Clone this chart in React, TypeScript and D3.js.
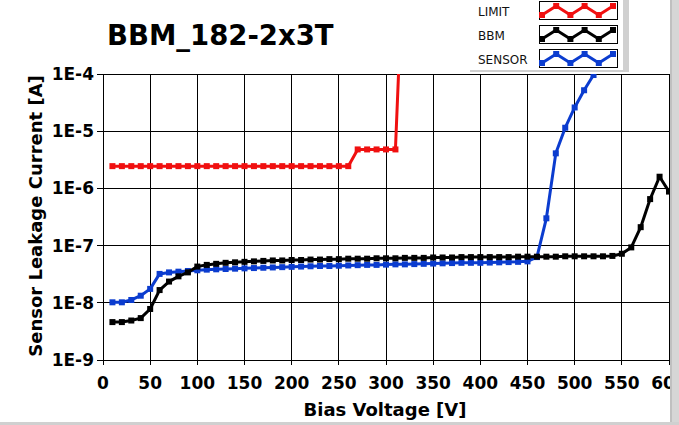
import React from 'react';
import * as d3 from 'd3';

const title = 'BBM_182-2x3T';
const xTicks = [0, 50, 100, 150, 200, 250, 300, 350, 400, 450, 500, 550, 600];
const yTicks = [1e-9, 1e-8, 1e-7, 1e-6, 1e-5, 1e-4];
const yTickLabels = ['1E-9', '1E-8', '1E-7', '1E-6', '1E-5', '1E-4'];

const limitV = [10, 20, 30, 40, 50, 60, 70, 80, 90, 100, 110, 120, 130, 140, 150, 160, 170, 180, 190, 200,
  210, 220, 230, 240, 250, 260, 270, 280, 290, 300, 310, 320];
const limitI = [2.45e-6, 2.45e-6, 2.45e-6, 2.45e-6, 2.45e-6, 2.45e-6, 2.45e-6, 2.45e-6, 2.45e-6, 2.45e-6,
  2.45e-6, 2.45e-6, 2.45e-6, 2.45e-6, 2.45e-6, 2.45e-6, 2.45e-6, 2.45e-6, 2.45e-6, 2.45e-6,
  2.45e-6, 2.45e-6, 2.45e-6, 2.45e-6, 2.45e-6, 2.45e-6, 4.8e-6, 4.8e-6, 4.8e-6, 4.8e-6, 4.8e-6, 5e-2];

const bbmV = [10, 20, 30, 40, 50, 60, 70, 80, 90, 100, 110, 120, 130, 140, 150, 160, 170, 180, 190, 200,
  210, 220, 230, 240, 250, 260, 270, 280, 290, 300, 310, 320, 330, 340, 350, 360, 370, 380, 390, 400,
  410, 420, 430, 440, 450, 460, 470, 480, 490, 500, 510, 520, 530, 540, 550, 560, 570, 580, 590, 600];
const bbmI = [4.6e-9, 4.6e-9, 4.9e-9, 5.4e-9, 7.8e-9, 1.67e-8, 2.35e-8, 2.9e-8, 3.4e-8, 4.3e-8,
  4.6e-8, 4.8e-8, 5.0e-8, 5.1e-8, 5.2e-8, 5.3e-8, 5.4e-8, 5.5e-8, 5.5e-8, 5.6e-8,
  5.6e-8, 5.7e-8, 5.7e-8, 5.8e-8, 5.8e-8, 5.9e-8, 5.9e-8, 5.9e-8, 6.0e-8, 6.0e-8,
  6.0e-8, 6.1e-8, 6.1e-8, 6.1e-8, 6.2e-8, 6.2e-8, 6.2e-8, 6.3e-8, 6.3e-8, 6.3e-8,
  6.3e-8, 6.3e-8, 6.3e-8, 6.4e-8, 6.4e-8, 6.4e-8, 6.4e-8, 6.4e-8, 6.5e-8, 6.5e-8,
  6.5e-8, 6.5e-8, 6.5e-8, 6.6e-8, 7.2e-8, 9.3e-8, 2.1e-7, 6.5e-7, 1.6e-6, 8.8e-7];

const sensorV = [10, 20, 30, 40, 50, 60, 70, 80, 90, 100, 110, 120, 130, 140, 150, 160, 170, 180, 190, 200,
  210, 220, 230, 240, 250, 260, 270, 280, 290, 300, 310, 320, 330, 340, 350, 360, 370, 380, 390, 400,
  410, 420, 430, 440, 450, 460, 470, 480, 490, 500, 510, 520, 530];
const sensorI = [1.02e-8, 1.02e-8, 1.12e-8, 1.33e-8, 1.75e-8, 3.2e-8, 3.4e-8, 3.5e-8, 3.6e-8, 3.7e-8,
  3.8e-8, 3.85e-8, 3.9e-8, 3.95e-8, 4.0e-8, 4.05e-8, 4.1e-8, 4.15e-8, 4.2e-8, 4.25e-8,
  4.3e-8, 4.35e-8, 4.4e-8, 4.4e-8, 4.45e-8, 4.5e-8, 4.55e-8, 4.6e-8, 4.6e-8, 4.65e-8,
  4.7e-8, 4.7e-8, 4.75e-8, 4.8e-8, 4.85e-8, 4.9e-8, 4.95e-8, 5.0e-8, 5.0e-8, 5.0e-8,
  5.05e-8, 5.1e-8, 5.15e-8, 5.2e-8, 5.3e-8, 6.3e-8, 3.0e-7, 4.1e-6, 1.15e-5, 2.6e-5,
  5.2e-5, 9.6e-5, 2.0e-4];

const seriesNames = ['LIMIT', 'BBM', 'SENSOR'];
const seriesColors = ['#f01010', '#000000', '#0b3ccf'];

const W = 679;
const H = 425;
const left = 103;
const right = 669;
const top = 74;
const bottom = 360;
const font = '"DejaVu Sans", Verdana, sans-serif';

const x = d3.scaleLinear().domain([0, 600]).range([left, right]);
const y = d3.scaleLog().domain([1e-9, 1e-4]).range([bottom, top]);

type Pt = [number, number];
const zip = (vs: number[], is: number[]): Pt[] => vs.map((v, i) => [v, is[i]]);

const line = d3.line<Pt>().x(d => x(d[0])).y(d => y(d[1]));

const Series = ({ pts, color }: { pts: Pt[]; color: string }) => (
  <g>
    <path d={line(pts) || ''} fill="none" stroke={color} strokeWidth={3} strokeLinejoin="round" />
    {pts.map((d, i) => (
      <rect key={i} x={x(d[0]) - 3} y={y(d[1]) - 3} width={6} height={6} fill={color} />
    ))}
  </g>
);

// small zigzag swatch inside the legend boxes
const swatchX = [0, 1, 2, 3, 4, 5];
const swatchY = [1, 0, 1, 0, 1, 0];

const Legend = () => {
  const sx = d3.scaleLinear().domain([0, 5]).range([542, 613]);
  const rows = [1, 25, 49];
  return (
    <g>
      <rect x={470} y={0} width={158} height={71} fill="#fff" />
      <rect x={623} y={0} width={6} height={72} fill="#d0d0d0" />
      <rect x={470} y={70} width={159} height={2} fill="#cfcfcf" />
      {seriesNames.map((name, k) => {
        const r = rows[k];
        const sy = d3.scaleLinear().domain([0, 1]).range([r + 5, r + 14]);
        const pts = swatchX.map((v, i) => [sx(v), sy(swatchY[i])] as Pt);
        return (
          <g key={name}>
            <text x={478} y={r + 15} fontFamily={font} fontSize={12} fill="#111">{name}</text>
            <rect x={539.5} y={r + 0.5} width={78} height={18} fill="#fff" stroke="#000" strokeWidth={1} />
            <path d={d3.line()(pts) || ''} fill="none" stroke={seriesColors[k]} strokeWidth={3} />
            {pts.map((p, i) => (
              <rect key={i} x={p[0] - 3} y={p[1] - 3} width={6} height={6} fill={seriesColors[k]} />
            ))}
          </g>
        );
      })}
    </g>
  );
};

export default function App() {
  return (
    <svg width={W} height={H} style={{ position: 'absolute', left: 0, top: 0, background: '#fff' }}>
      <defs>
        <clipPath id="plot">
          <rect x={left} y={top} width={right - left} height={bottom - top} />
        </clipPath>
      </defs>
      <rect width={W} height={H} fill="#fff" />

      <text x={107} y={45} fontFamily={font} fontWeight="bold" fontSize={27.5} fill="#000">{title}</text>

      {/* grid */}
      {xTicks.map(t => (
        <g key={'x' + t}>
          <line x1={x(t)} x2={x(t)} y1={top} y2={bottom + 5} stroke="#000" strokeWidth={1} shapeRendering="crispEdges" />
          <text x={x(t)} y={389} textAnchor="middle" fontFamily={font} fontWeight="bold" fontSize={17}>{t}</text>
        </g>
      ))}
      {yTicks.map((t, i) => (
        <g key={'y' + i}>
          <line x1={left - 6} x2={right} y1={y(t)} y2={y(t)} stroke="#000" strokeWidth={1} shapeRendering="crispEdges" />
          <text x={94} y={y(t) + 6} textAnchor="end" fontFamily={font} fontWeight="bold" fontSize={17}>{yTickLabels[i]}</text>
        </g>
      ))}
      <rect x={left} y={top} width={right - left} height={bottom - top} fill="none" stroke="#000" strokeWidth={1} shapeRendering="crispEdges" />

      <g clipPath="url(#plot)">
        <Series pts={zip(sensorV, sensorI)} color={seriesColors[2]} />
        <Series pts={zip(bbmV, bbmI)} color={seriesColors[1]} />
        <Series pts={zip(limitV, limitI)} color={seriesColors[0]} />
      </g>

      <text x={385} y={416} textAnchor="middle" fontFamily={font} fontWeight="bold" fontSize={18}>Bias Voltage [V]</text>
      <text transform="translate(42,216) rotate(-90)" textAnchor="middle" fontFamily={font} fontWeight="bold" fontSize={18}>
        Sensor Leakage Current [A]
      </text>

      <Legend />

      <rect x={670} y={0} width={9} height={H} fill="#d6d6d6" />
      <rect x={670} y={0} width={2} height={H} fill="#c0c0c0" />
      <rect x={0} y={422} width={W} height={3} fill="#d0d0d0" />
    </svg>
  );
}
